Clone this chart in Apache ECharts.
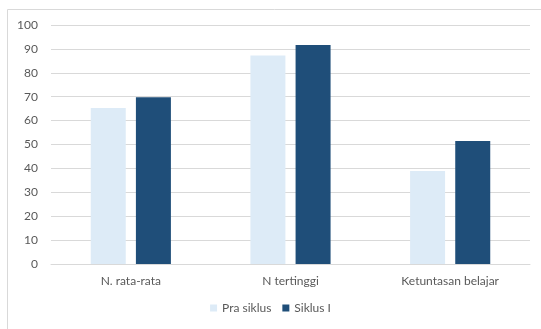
<!DOCTYPE html>
<html><head><meta charset="utf-8">
<script src="https://cdn.jsdelivr.net/npm/echarts@6/dist/echarts.min.js"></script>
<style>html,body{margin:0;padding:0;background:#fff}#c{width:541px;height:329px}</style>
</head><body><div id="c"></div>
<script>
const categories = ['N. rata-rata', 'N tertinggi', 'Ketuntasan belajar'];
const praSiklus = [65.3, 87.2, 38.9];
const siklusI = [69.8, 91.6, 51.5];
const seriesNames = ['Pra siklus', 'Siklus I'];
const chart = echarts.init(document.getElementById('c'));
const font = 'Lato, "Open Sans", sans-serif';
chart.setOption({
  animation: false,
  graphic: [{type:'rect', shape:{x:7.5, y:9.5, width:600, height:400}, style:{fill:'none', stroke:'#d9d9d9', lineWidth:1}, silent:true}],
  grid: {left: 51, right: 11, top: 25, bottom: 65},
  legend: {bottom: 10, left: 'center', itemWidth: 7, itemHeight: 7, itemGap: 11, icon: 'rect',
    textStyle: {color: '#595959', fontSize: 12, fontFamily: font}, data: seriesNames},
  xAxis: {type: 'category', data: categories,
    axisLine: {lineStyle: {color: '#d9d9d9', width: 1}}, axisTick: {show: false},
    axisLabel: {color: '#595959', fontSize: 12, fontFamily: font, margin: 11}},
  yAxis: {type: 'value', min: 0, max: 100, interval: 10,
    axisLine: {show: false}, axisTick: {show: false},
    splitLine: {lineStyle: {color: '#d9d9d9', width: 1}},
    axisLabel: {color: '#595959', fontSize: 12, fontFamily: font, margin: 13}},
  series: [
    {name: seriesNames[0], type: 'bar', data: praSiklus, barWidth: 35, barGap: '29%', itemStyle: {color: '#ddebf7'}},
    {name: seriesNames[1], type: 'bar', data: siklusI, barWidth: 35, itemStyle: {color: '#1f4e79'}}
  ]
});
</script></body></html>
